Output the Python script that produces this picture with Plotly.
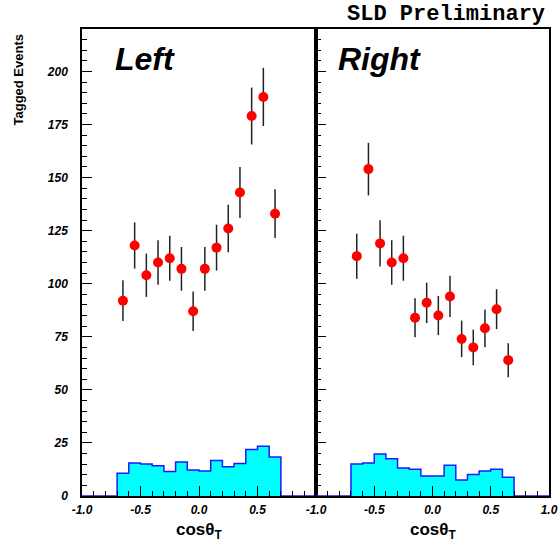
import plotly.graph_objects as go

# Bin centres of cos(theta_T) and the measured tagged-event counts
bin_centres = [-0.65, -0.55, -0.45, -0.35, -0.25, -0.15, -0.05,
               0.05, 0.15, 0.25, 0.35, 0.45, 0.55, 0.65]

left_counts = [92, 118, 104, 110, 112, 107, 87, 107, 117, 126, 143, 179, 188, 133]
left_errors = [9.6, 10.9, 10.2, 10.5, 10.6, 10.3, 9.3, 10.3, 10.8, 11.2, 12.0, 13.4, 13.7, 11.5]

right_counts = [113, 154, 119, 110, 112, 84, 91, 85, 94, 74, 70, 79, 88, 64]
right_errors = [10.6, 12.4, 10.9, 10.5, 10.6, 9.2, 9.5, 9.2, 9.7, 8.6, 8.4, 8.9, 9.4, 8.0]

# Background histograms (bins of width 0.1 between -0.7 and 0.7)
left_background = [10.7, 15.6, 15.1, 14.2, 11.5, 16.0, 12.3, 11.8, 16.7, 13.8, 15.3, 21.9, 23.4, 18.4]
right_background = [15.1, 15.6, 19.8, 17.5, 13.2, 12.6, 9.4, 9.4, 14.5, 7.5, 10.1, 11.8, 12.6, 8.8]

y_ticks = [0, 25, 50, 75, 100, 125, 150, 175, 200]
x_ticks = [-1.0, -0.5, 0.0, 0.5, 1.0]
x_tick_text_left = ["-1.0", "-0.5", "0.0", "0.5", ""]
x_tick_text_right = ["-1.0", "-0.5", "0.0", "0.5", "1.0"]

FONT = "Liberation Sans, Arial, Helvetica, sans-serif"


def step_histogram(values):
    # pad with empty bins so the outline runs along the full -1..1 range
    edges = [round(-1.0 + 0.1 * i, 2) for i in range(21)]
    full = [0.0] * 3 + list(values) + [0.0] * 3
    return edges, full + [full[-1]]


fig = go.Figure()

for idx, (counts, errs, bkg) in enumerate(
        [(left_counts, left_errors, left_background),
         (right_counts, right_errors, right_background)]):
    xa = "x" if idx == 0 else "x2"
    ya = "y" if idx == 0 else "y2"
    hx, hy = step_histogram(bkg)
    fig.add_trace(go.Scatter(
        x=hx, y=hy, mode="lines", line=dict(shape="hv", color="#1a1aff", width=1.5),
        fill="tozeroy", fillcolor="#00ffff", xaxis=xa, yaxis=ya, showlegend=False,
        hoverinfo="skip"))
    fig.add_trace(go.Scatter(
        x=bin_centres, y=counts, mode="markers",
        marker=dict(color="#ff0000", size=10, line=dict(width=0)),
        error_y=dict(type="data", array=errs, visible=True, width=0,
                     thickness=1.5, color="#222222"),
        xaxis=xa, yaxis=ya, showlegend=False))

split = (316 - 82) / (549 - 82)

common_x = dict(
    range=[-1.0, 1.0], tickvals=x_ticks,
    ticks="inside", ticklen=10, tickwidth=1, tickcolor="black",
    minor=dict(dtick=0.1, tick0=0, ticks="inside", ticklen=5, tickwidth=1, tickcolor="black"),
    showline=True, linecolor="black", linewidth=1.5, mirror=True,
    showgrid=False, zeroline=False, automargin=False,
    tickfont=dict(family=FONT, size=12, color="black", weight="bold", style="italic"),
    ticklabelstandoff=2,
)
common_y = dict(
    range=[0, 220], tickvals=y_ticks,
    ticks="inside", ticklen=10, tickwidth=1, tickcolor="black",
    minor=dict(dtick=5, tick0=0, ticks="inside", ticklen=5, tickwidth=1, tickcolor="black"),
    showline=True, linecolor="black", linewidth=1.5, mirror=True,
    showgrid=False, zeroline=False, automargin=False,
    tickfont=dict(family=FONT, size=12, color="black", weight="bold", style="italic"),
)

fig.update_layout(
    width=558, height=541,
    margin=dict(l=82, r=9, t=29, b=45),
    paper_bgcolor="white", plot_bgcolor="white",
    xaxis=dict(domain=[0, split], anchor="y", ticktext=x_tick_text_left, **common_x),
    xaxis2=dict(domain=[split, 1], anchor="y2", ticktext=x_tick_text_right, **common_x),
    yaxis=dict(anchor="x", ticklabelstandoff=10, **common_y),
    yaxis2=dict(anchor="x2", showticklabels=False, **common_y),
)

annotations = [
    dict(text="SLD Preliminary", x=1.0, y=1.0 + 14 / 467, xref="paper", yref="paper",
         xanchor="right", yanchor="middle", xshift=-2, showarrow=False,
         font=dict(family="Liberation Mono, Courier New, monospace", size=22,
                   color="black", weight="bold")),
    dict(text="Left", x=-0.735, y=206, xref="x", yref="y", xanchor="left",
         yanchor="middle", showarrow=False,
         font=dict(family=FONT, size=32, color="black", weight="bold", style="italic")),
    dict(text="Right", x=-0.83, y=206, xref="x2", yref="y2", xanchor="left",
         yanchor="middle", showarrow=False,
         font=dict(family=FONT, size=32, color="black", weight="bold", style="italic")),
    dict(text="Tagged Events", x=(18 - 82) / 467, y=(496 - 79.5) / 467,
         xref="paper", yref="paper", xanchor="center", yanchor="middle",
         textangle=-90, showarrow=False,
         font=dict(family=FONT, size=13, color="black", weight="bold")),
]
for xc in [split / 2, (split + 1) / 2]:
    annotations.append(dict(
        text="cosθ<sub>T</sub>", x=xc, y=(496 - 531) / 467, xref="paper", yref="paper",
        xanchor="center", yanchor="middle", showarrow=False,
        font=dict(family=FONT, size=17, color="black", weight="bold")))

fig.update_layout(annotations=annotations)

fig.write_html("out.html")
